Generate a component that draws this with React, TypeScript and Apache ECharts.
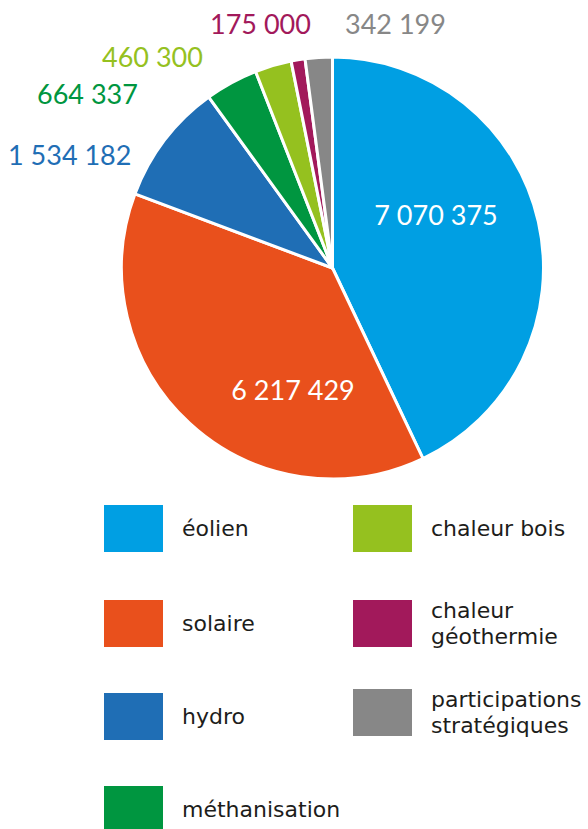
import React, { useEffect, useRef } from "react";
import * as echarts from "echarts";

const categories = [
  "éolien",
  "solaire",
  "hydro",
  "méthanisation",
  "chaleur bois",
  "chaleur géothermie",
  "participations stratégiques",
];
const values = [7070375, 6217429, 1534182, 664337, 460300, 175000, 342199];
const legendLabels: Record<string, string> = {
  "chaleur géothermie": "chaleur\ngéothermie",
  "participations stratégiques": "participations\nstratégiques",
};

const COLORS = ["#009FE3", "#E9501C", "#1F6EB5", "#009640", "#95C11F", "#A2195B", "#878787"];
const LABEL_COLORS = ["#FFFFFF", "#FFFFFF", "#1F6EB5", "#009640", "#95C11F", "#A2195B", "#878787"];
// label layout: [x, y, align]
const LABEL_LAYOUT: [number, number, string][] = [
  [436, 214, "center"],
  [293, 389, "center"],
  [8, 154, "left"],
  [37, 93, "left"],
  [102, 56, "left"],
  [210, 23, "left"],
  [345, 23, "left"],
];
// legend layout per item: [left, top]
const LEGEND_LAYOUT: [number, number][] = [
  [102, 503],
  [102, 598],
  [102, 691],
  [102, 784],
  [351, 503],
  [351, 597.5],
  [351, 686.5],
];

const fmt = (v: number) => String(v).replace(/\B(?=(\d{3})+(?!\d))/g, " ");

export default function App() {
  const ref = useRef<HTMLDivElement>(null);
  useEffect(() => {
    document.body.style.margin = "0";
    if (!ref.current) return;
    const chart = echarts.init(ref.current, undefined, { renderer: "svg" });
    const data = categories.map((name, i) => ({
      name,
      value: values[i],
      itemStyle: { color: COLORS[i] },
      label: { color: LABEL_COLORS[i] },
    }));
    const legends = categories.map((name, i) => ({
      data: [name],
      orient: "vertical",
      left: LEGEND_LAYOUT[i][0],
      top: LEGEND_LAYOUT[i][1],
      itemWidth: 61,
      itemHeight: 49,
      icon: "rect",
      selectedMode: false,
      padding: 0,
      formatter: (n: string) => legendLabels[n] || n,
      textStyle: {
        fontFamily: "DejaVu Sans",
        fontSize: 22,
        lineHeight: 26,
        color: "#1d1d1b",
        padding: [0, 0, 0, 13],
      },
    }));
    chart.setOption({
      animation: false,
      legend: legends,
      series: [
        {
          type: "pie",
          center: [332.5, 268],
          radius: 211,
          startAngle: 90,
          clockwise: true,
          avoidLabelOverlap: false,
          itemStyle: { borderColor: "#ffffff", borderWidth: 3 },
          label: {
            show: true,
            position: "outside",
            fontFamily: "Lato",
            fontSize: 27,
            formatter: (p: any) => fmt(p.value),
          },
          labelLine: { show: false },
          labelLayout: (p: any) => {
            const l = LABEL_LAYOUT[p.dataIndex];
            return { x: l[0], y: l[1], align: l[2], verticalAlign: "middle" };
          },
          emphasis: { disabled: true },
          data,
        },
      ],
    });
    return () => chart.dispose();
  }, []);
  return <div ref={ref} style={{ width: 588, height: 829 }} />;
}
